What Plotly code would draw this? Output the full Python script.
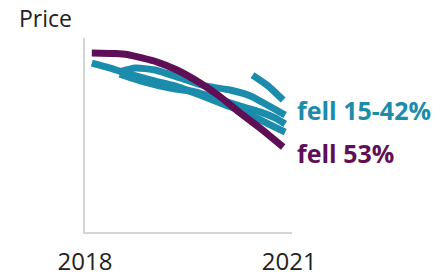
import plotly.graph_objects as go

# Price index values (y axis 0-100), x in years
purple_x = [2018.10, 2018.45, 2018.62, 2019.06, 2019.35, 2019.69, 2019.99, 2020.28, 2020.57, 2020.91]
purple_y = [92.3, 92.0, 91.5, 87.6, 83.5, 76.8, 69.6, 61.3, 53.6, 43.8]

tealA_x = [2018.10, 2018.37, 2018.59, 2018.96, 2019.32, 2019.69, 2020.06, 2020.43, 2020.72, 2020.94]
tealA_y = [87.1, 84.5, 82.0, 78.4, 75.3, 70.6, 65.5, 60.3, 55.2, 51.5]

tealB_x = [2018.51, 2018.74, 2019.03, 2019.40, 2019.76, 2020.13, 2020.43, 2020.65, 2020.94]
tealB_y = [82.5, 84.5, 83.5, 79.4, 75.3, 73.2, 70.1, 66.0, 60.3]

tealC_x = [2018.51, 2018.88, 2019.25, 2019.62, 2019.91, 2020.28, 2020.57, 2020.79, 2020.94]
tealC_y = [81.4, 77.3, 74.2, 72.2, 69.1, 64.9, 61.9, 58.8, 55.7]

tealD_x = [2020.46, 2020.69, 2020.91]
tealD_y = [80.9, 75.3, 68.0]

tick_vals = [2018, 2021]
tick_text = ["2018", "2021"]

PURPLE = "#5f0f55"
TEAL = "#1b8cab"
FONT = "Open Sans"

fig = go.Figure()
for xs, ys in [(tealA_x, tealA_y), (tealB_x, tealB_y), (tealC_x, tealC_y), (tealD_x, tealD_y)]:
    fig.add_trace(go.Scatter(x=xs, y=ys, mode="lines",
                             line=dict(color=TEAL, width=7, shape="spline", smoothing=0.6),
                             showlegend=False, hoverinfo="skip"))
fig.add_trace(go.Scatter(x=purple_x, y=purple_y, mode="lines",
                         line=dict(color=PURPLE, width=7, shape="spline", smoothing=0.5),
                         showlegend=False, hoverinfo="skip"))

fig.update_layout(
    width=435, height=268,
    margin=dict(l=77, r=151, t=30, b=44),
    paper_bgcolor="white", plot_bgcolor="white",
    font=dict(family=FONT, color="#222222"),
    xaxis=dict(range=[2018, 2021.04], tickvals=tick_vals, ticktext=tick_text,
               showgrid=False, zeroline=False, showline=True, linecolor="#d4d4d4",
               linewidth=2, ticks="outside", ticklen=7, tickcolor="white",
               automargin=False,
               tickfont=dict(size=24, family=FONT, color="#222222")),
    yaxis=dict(range=[0, 100], showticklabels=False, showgrid=False, zeroline=False,
               showline=True, linecolor="#d4d4d4", linewidth=2, ticks="",
               automargin=False),
    annotations=[
        dict(text="Price", xref="paper", yref="paper", x=-0.3285, y=1.103,
             xanchor="left", yanchor="middle", showarrow=False,
             font=dict(size=23, family=FONT, color="#222222")),
        dict(text="<b>fell 15-42%</b>", xref="paper", yref="paper", x=1.0145, y=0.629,
             xanchor="left", yanchor="middle", showarrow=False,
             font=dict(size=25, family=FONT, color=TEAL)),
        dict(text="<b>fell 53%</b>", xref="paper", yref="paper", x=1.0145, y=0.405,
             xanchor="left", yanchor="middle", showarrow=False,
             font=dict(size=25, family=FONT, color=PURPLE)),
    ],
)
fig.write_html("out.html")
